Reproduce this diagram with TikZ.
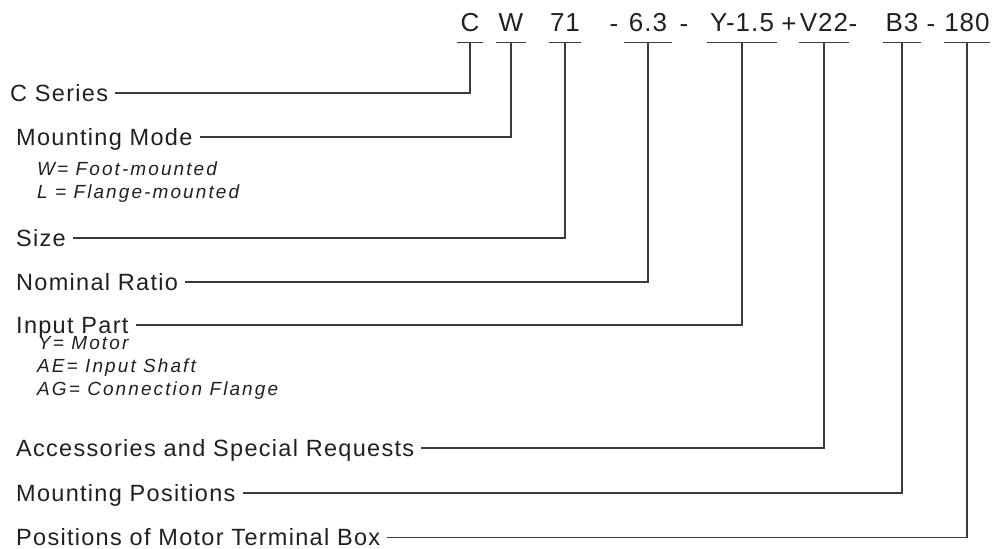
\documentclass[tikz,border=0pt]{standalone}
\usepackage{fontspec}
\setmainfont{Liberation Sans}
\newfontfamily\codefont[LetterSpace=4]{Liberation Sans}
\newfontfamily\entryfont[LetterSpace=5.5]{Liberation Sans}
\newfontfamily\notefont[LetterSpace=11]{Liberation Sans}
\usepackage{tikz}
\definecolor{ink}{RGB}{35,31,32}
\definecolor{wirecol}{RGB}{62,58,57}
\tikzset{basic/.style={text=ink,inner sep=0pt}}
\tikzset{code/.style={basic,font=\codefont\fontsize{26}{26}\selectfont,
                      text height=19pt,text depth=0pt,inner ysep=10.7pt,anchor=south}}
\tikzset{sep/.style={basic,font=\codefont\fontsize{26}{26}\selectfont,anchor=base}}
\tikzset{entry/.style={basic,font=\entryfont\fontsize{23.5}{23.5}\selectfont,
                       text height=16.8pt,text depth=0pt,anchor=base west}}
\tikzset{note/.style={basic,font=\notefont\itshape\fontsize{19}{19}\selectfont,anchor=base west}}
\tikzset{wire/.style={draw=wirecol,line width=1.3pt}}

\begin{document}
\begin{tikzpicture}[x=1pt,y=-1pt]
    \useasboundingbox (0,0) rectangle (994,549);

    % type code
    \foreach \t/\x/\w [count=\i] in {C/470/26,W/511/29,71/565/31,6.3/648/48,
                                     Y-1.5/742/70,V22/824/50,B3/902/37,180/967/44}{
        \node[code,minimum width=\w pt] (c\i) at (\x,42.7) {\t};
        \draw[wire] (c\i.south west) -- (c\i.south east);
    }
    % dashes and plus
    \foreach \t/\x [count=\i] in {-/614,-/684,+/789,-/853,-/931}{
        \node[sep] (s\i) at (\x,32) {\t};
    }

    % entries
    \foreach \t/\x/\y [count=\i] in {C Series/10/93,Mounting Mode/16/137,Size/16/238,
            Nominal Ratio/16/282,Input Part/16/325,Accessories and Special Requests/16/448,
            Mounting Positions/16/493,Positions of Motor Terminal Box/16/537.5}{
        \node[entry] (e\i) at (\x,\y+8.4) {\t};
        \draw[wire] (c\i.south) |- ([xshift=7pt]e\i.east);
    }

    % options
    \node[note] (w) at (37,175) {W= Foot-mounted};
    \node[note] (l) at (37,198) {L = Flange-mounted};
    \node[note] (y) at (38,349) {Y= Motor};
    \node[note] (ae) at (37,372) {AE= Input Shaft};
    \node[note] (ag) at (37,395) {AG= Connection Flange};
\end{tikzpicture}
\end{document}
